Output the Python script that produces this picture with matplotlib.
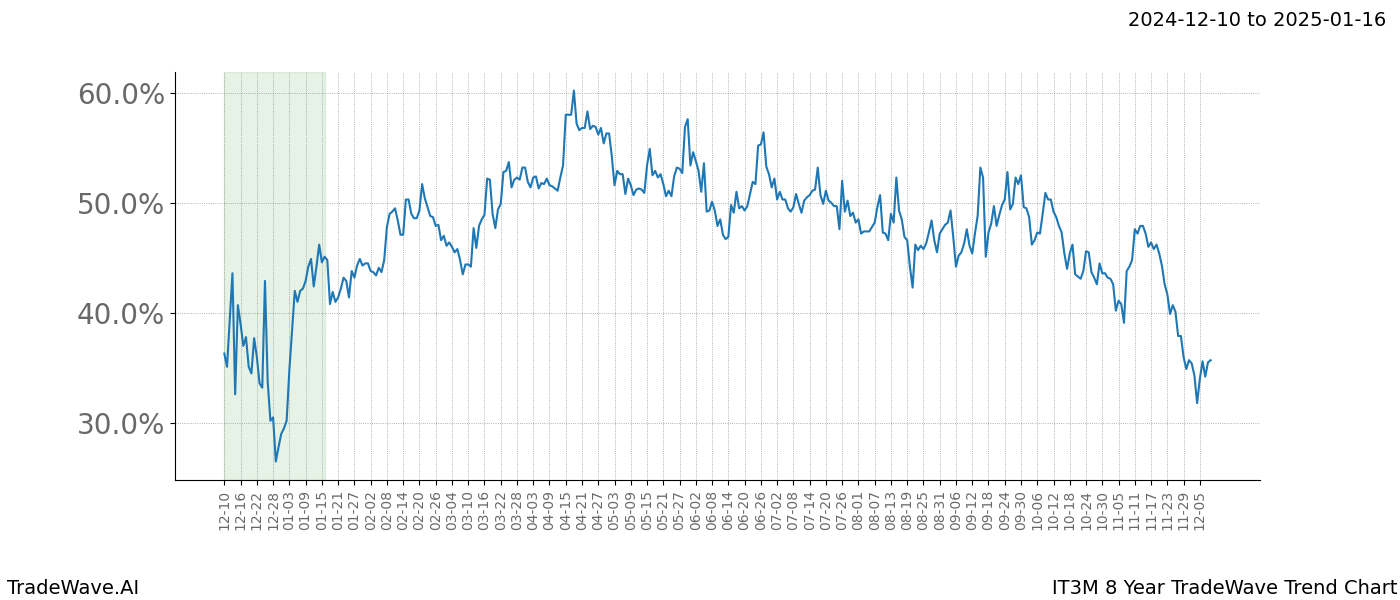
import matplotlib
matplotlib.use("Agg")
import matplotlib.pyplot as plt
import matplotlib.dates as mdates
import pandas as pd

# daily series, 2024-12-10 .. 2025-12-09 (values in %)
start_date = "2024-12-10"
trend_values = [
    36.3, 35.1, 39.4, 43.6, 32.6, 40.7, 39.0, 37.0, 37.8, 35.1,
    34.5, 37.7, 36.0, 33.6, 33.2, 42.9, 33.8, 30.2, 30.5, 26.5,
    27.8, 29.0, 29.5, 30.2, 34.8, 38.4, 42.0, 41.0, 42.0, 42.2,
    42.9, 44.2, 44.9, 42.4, 44.2, 46.2, 44.6, 45.1, 44.8, 40.8,
    41.9, 41.0, 41.4, 42.2, 43.2, 42.9, 41.4, 43.8, 43.2, 44.3,
    44.9, 44.3, 44.5, 44.5, 43.8, 43.7, 43.4, 44.1, 43.7, 44.8,
    47.8, 49.0, 49.2, 49.5, 48.4, 47.1, 47.1, 50.3, 50.3, 49.0,
    48.6, 48.6, 49.3, 51.7, 50.4, 49.6, 48.8, 48.7, 47.9, 48.0,
    46.6, 47.0, 46.1, 46.4, 46.0, 45.5, 45.8, 44.8, 43.5, 44.4,
    44.4, 44.2, 47.7, 45.9, 47.9, 48.5, 48.9, 52.2, 52.1, 49.0,
    47.7, 49.4, 49.9, 52.8, 52.9, 53.7, 51.4, 52.1, 52.3, 52.1,
    53.2, 53.2, 51.9, 51.4, 52.3, 52.4, 51.3, 51.8, 51.7, 52.2,
    51.6, 51.5, 51.3, 51.1, 52.3, 53.4, 58.0, 58.0, 58.0, 60.2,
    57.2, 56.6, 56.8, 56.8, 58.3, 56.7, 57.0, 56.9, 56.2, 56.8,
    55.4, 56.3, 56.3, 54.2, 51.6, 52.9, 52.6, 52.6, 50.8, 52.2,
    51.6, 50.7, 51.2, 51.3, 51.2, 50.9, 53.4, 54.9, 52.5, 52.9,
    52.3, 52.6, 51.7, 50.6, 51.1, 50.6, 52.4, 53.2, 53.1, 52.7,
    56.9, 57.6, 53.4, 54.6, 53.8, 52.9, 51.0, 53.6, 49.2, 49.3,
    50.1, 49.3, 47.9, 48.5, 47.1, 46.7, 46.9, 49.8, 49.1, 51.0,
    49.5, 49.7, 49.3, 49.7, 50.8, 51.9, 51.7, 55.2, 55.3, 56.4,
    53.3, 52.6, 51.4, 52.2, 50.3, 51.0, 50.3, 50.3, 49.5, 49.2,
    49.6, 50.8, 49.9, 49.1, 50.2, 50.5, 50.7, 51.1, 51.2, 53.2,
    50.7, 49.9, 51.1, 50.2, 50.0, 49.7, 49.7, 47.6, 52.0, 49.2,
    50.2, 48.8, 49.1, 48.2, 48.5, 47.2, 47.4, 47.4, 47.4, 47.8,
    48.2, 49.6, 50.7, 47.3, 47.2, 46.6, 49.0, 48.2, 52.3, 49.3,
    48.5, 46.9, 46.6, 44.2, 42.3, 46.2, 45.7, 46.1, 45.8, 46.3,
    47.3, 48.4, 46.6, 45.5, 47.2, 47.6, 48.0, 48.2, 49.3, 46.9,
    44.2, 45.2, 45.5, 46.3, 47.6, 46.1, 45.4, 47.2, 48.8, 53.2,
    52.3, 45.1, 47.3, 48.1, 49.7, 47.9, 48.9, 49.8, 50.3, 52.8,
    49.4, 49.9, 52.3, 51.7, 52.5, 49.6, 49.5, 48.7, 46.2, 46.6,
    47.3, 47.2, 49.0, 50.9, 50.3, 50.3, 49.2, 48.7, 47.9, 47.3,
    45.4, 44.0, 45.4, 46.2, 43.5, 43.3, 43.1, 43.8, 45.6, 45.5,
    43.7, 43.2, 42.6, 44.5, 43.6, 43.6, 43.2, 43.1, 42.6, 40.2,
    41.1, 40.8, 39.1, 43.8, 44.2, 44.8, 47.6, 47.2, 47.9, 47.9,
    47.2, 46.0, 46.4, 45.8, 46.2, 45.4, 44.3, 42.6, 41.7, 39.9,
    40.7, 40.1, 37.9, 37.9, 36.0, 34.9, 35.7, 35.4, 34.3, 31.8,
    34.0, 35.6, 34.2, 35.5, 35.7,
]

# highlighted window and tick setup
span_start = "2024-12-10"
span_end = "2025-01-16"
tick_start = "2024-12-10"
tick_end = "2025-12-05"
title_text = "2024-12-10 to 2025-01-16"
left_note = "TradeWave.AI"
right_note = "IT3M 8 Year TradeWave Trend Chart"

dates = pd.date_range(start_date, periods=len(trend_values), freq="D")
ticks = pd.date_range(tick_start, tick_end, freq="6D")

fig, ax = plt.subplots(figsize=(14, 6), dpi=100)
fig.subplots_adjust(left=0.125, right=0.9, top=0.88, bottom=0.2)

ax.plot(dates, trend_values, color="#1f77b4", linewidth=1.5)
ax.axvspan(pd.Timestamp(span_start), pd.Timestamp(span_end), color="green", alpha=0.1)

ax.set_xticks(ticks)
ax.xaxis.set_major_formatter(mdates.DateFormatter("%m-%d"))
plt.setp(ax.get_xticklabels(), rotation=90, fontsize=10, color="dimgray")

ax.yaxis.set_major_locator(plt.MultipleLocator(10))
ax.yaxis.set_major_formatter(plt.FuncFormatter(lambda v, p: f"{v:.1f}%"))
plt.setp(ax.get_yticklabels(), fontsize=20, color="dimgray")

ax.grid(True, color="gray", linestyle=":", linewidth=0.6, alpha=0.8)
ax.spines["top"].set_visible(False)
ax.spines["right"].set_visible(False)

fig.text(0.99, 0.965, title_text, ha="right", va="center", fontsize=14)
fig.text(0.005, 0.02, left_note, ha="left", va="center", fontsize=14)
fig.text(0.998, 0.02, right_note, ha="right", va="center", fontsize=14)

fig.savefig("out.png", dpi=100)
